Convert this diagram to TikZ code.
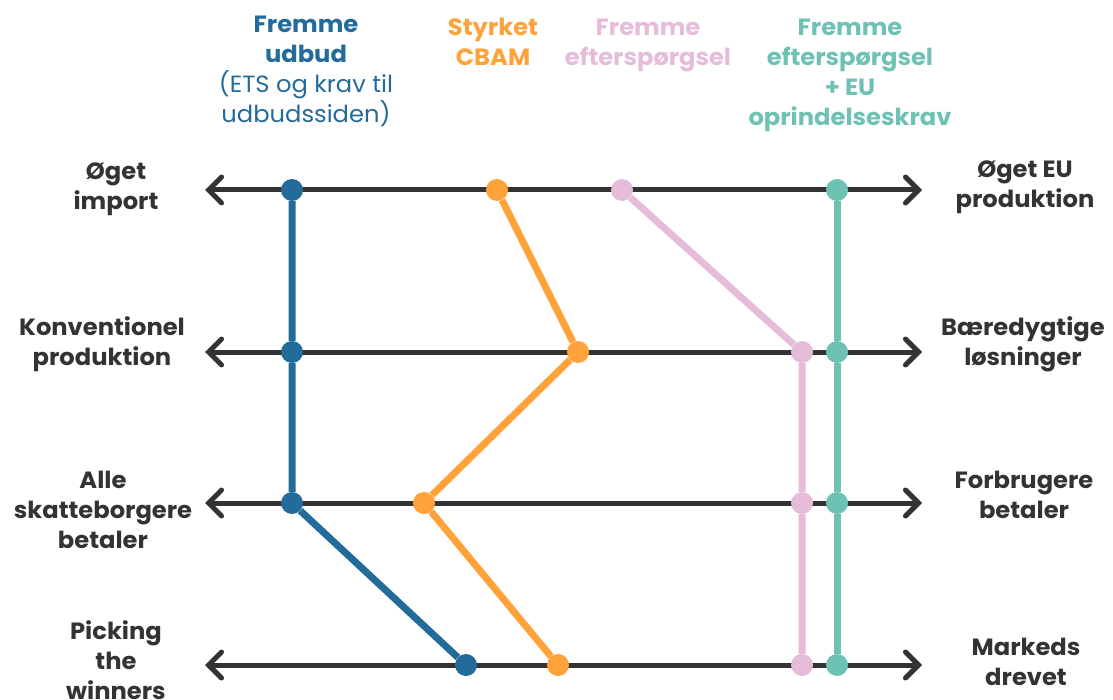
\documentclass[tikz,border=0pt]{standalone}
\usepackage{fontspec}
\setmainfont{Poppins}[FakeStretch=1.03]
\usetikzlibrary{arrows.meta}
\definecolor{cblue}{HTML}{236B9A}
\definecolor{corange}{HTML}{FFA23A}
\definecolor{cpink}{HTML}{E5BCD9}
\definecolor{cteal}{HTML}{6EC2B4}
\definecolor{cdark}{HTML}{333333}
\tikzset{
  axisline/.style={draw=cdark, line width=5pt, {Straight Barb[length=13pt,width=26pt,line width=5pt,line cap=round]}-{Straight Barb[length=13pt,width=26pt,line width=5pt,line cap=round]}},
  dot/.style={circle, inner sep=0pt, minimum size=22pt, fill=#1},
  conn/.style={draw=#1, line width=7pt},
  lbl/.style={align=center, text=cdark, font=\fontsize{23.5}{30}\selectfont\bfseries},
  head/.style={align=center, text=#1, font=\fontsize{23.5}{30}\selectfont\bfseries},
}
\begin{document}
\begin{tikzpicture}[x=1pt,y=-1pt]
\useasboundingbox (0,0) rectangle (1113,700);
% axis lines
\foreach \i/\y in {1/190,2/352,3/503,4/665}{
  \coordinate (L\i) at (205,\y);
  \coordinate (R\i) at (922,\y);
  \draw[axisline] (L\i) -- (R\i);
}
% dots
\node[dot=cblue] (b1) at (292,190) {};
\node[dot=cblue] (b2) at (292,352) {};
\node[dot=cblue] (b3) at (292,503) {};
\node[dot=cblue] (b4) at (466,665) {};
\node[dot=corange] (o1) at (497,190) {};
\node[dot=corange] (o2) at (578,352) {};
\node[dot=corange] (o3) at (424,503) {};
\node[dot=corange] (o4) at (558,665) {};
\node[dot=cpink] (p1) at (622,190) {};
\node[dot=cpink] (p2) at (802,352) {};
\node[dot=cpink] (p3) at (802,503) {};
\node[dot=cpink] (p4) at (802,665) {};
\node[dot=cteal] (t1) at (837,190) {};
\node[dot=cteal] (t2) at (837,352) {};
\node[dot=cteal] (t3) at (837,503) {};
\node[dot=cteal] (t4) at (837,665) {};
% connectors
\draw[conn=cblue] (b1) -- (b2) -- (b3) -- (b4);
\draw[conn=corange] (o1) -- (o2) -- (o3) -- (o4);
\draw[conn=cpink] (p1) -- (p2) -- (p3) -- (p4);
\draw[conn=cteal] (t1) -- (t2) -- (t3) -- (t4);
% headers
\node[head=cblue, anchor=north] (hb) at (306,12) {Fremme\\udbud\\\mdseries (ETS og krav til\\\mdseries udbudssiden)};
\node[head=corange, anchor=north] (ho) at (493,15) {Styrket\\CBAM};
\node[head=cpink, anchor=north] (hp) at (648,15) {Fremme\\efterspørgsel};
\node[head=cteal, anchor=north] (ht) at (850,15) {Fremme\\efterspørgsel\\+ EU\\oprindelseskrav};
% left labels
\node[lbl] (l1) at (116,189) {Øget\\import};
\node[lbl] (l2) at (102,344) {Konventionel\\produktion};
\node[lbl] (l3) at (103,510) {Alle\\skatteborgere\\betaler};
\node[lbl] (l4) at (116,660) {Picking\\the\\winners};
% right labels
\node[lbl] (r1) at (1025,187) {Øget EU\\produktion};
\node[lbl] (r2) at (1023,344) {Bæredygtige\\løsninger};
\node[lbl] (r3) at (1024,495) {Forbrugere\\betaler};
\node[lbl] (r4) at (1026,662) {Markeds\\drevet};
\end{tikzpicture}
\end{document}
